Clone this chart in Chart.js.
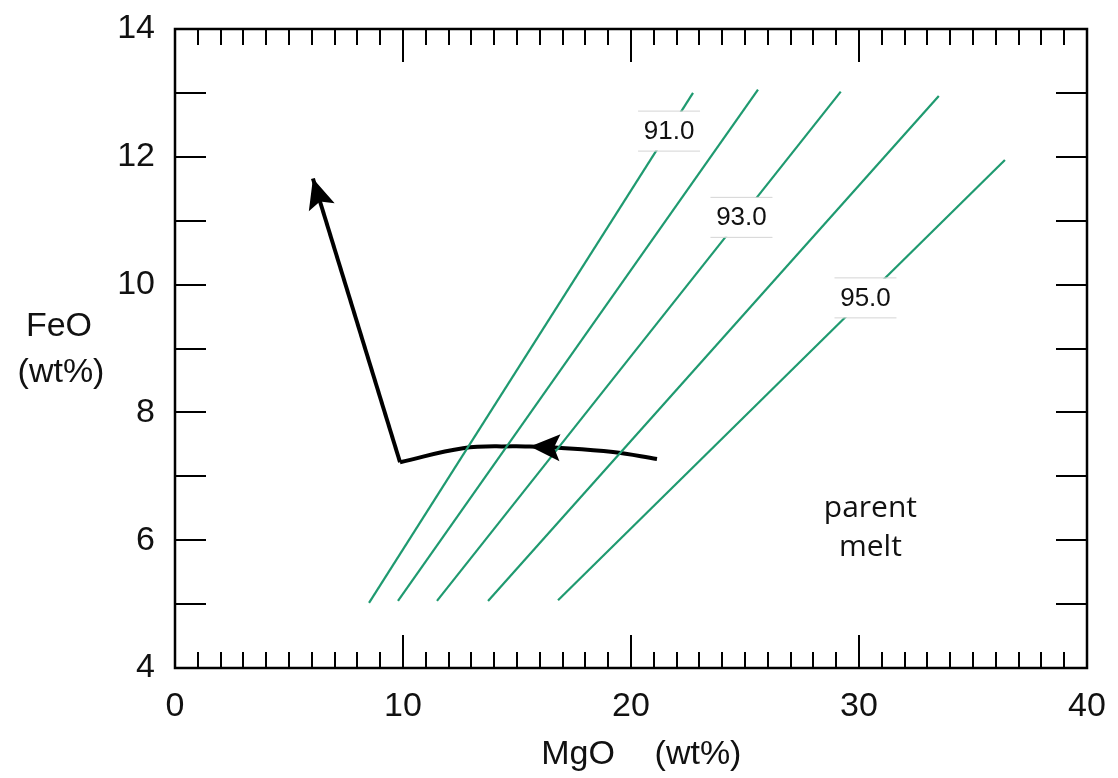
<!DOCTYPE html>
<html>
<head>
<meta charset="utf-8">
<script src="https://cdn.jsdelivr.net/npm/chart.js@4.4.1/dist/chart.umd.min.js"></script>
<style>
  html, body { margin: 0; padding: 0; background: #fff; }
  canvas { display: block; }
</style>
</head>
<body>
<canvas id="olivine-chart" width="1118" height="778"></canvas>
<script>
// axis tick labels
const mgoTicks = [0, 10, 20, 30, 40];
const feoTicks = [4, 6, 8, 10, 12, 14];

// olivine Fo contours: [bottom, top] end points
const contourMgO = [[8.51, 22.72], [9.78, 25.57], [11.49, 29.2], [13.73, 33.5], [16.8, 36.4]];
const contourFeO = [[5.02, 13.0], [5.05, 13.05], [5.05, 13.02], [5.05, 12.95], [5.06, 11.95]];
const contourLabels = ['91.0', '', '93.0', '', '95.0'];
const contourLabelFeO = [12.41, null, 11.06, null, 9.80];

// melt path from parent melt, then fractionation trend
const meltPathMgO = [21.14, 19.21, 16.67, 15.57, 14.82, 12.63, 9.87];
const meltPathFeO = [7.27, 7.38, 7.45, 7.465, 7.47, 7.44, 7.22];
const meltArrowIndex = 3;
const fractionMgO = [9.87, 6.05];
const fractionFeO = [7.22, 11.66];

const parentMeltText = ['parent', 'melt'];
const parentMeltMgO = 30.5;
const parentMeltFeO = [6.5, 5.89];

const GREEN = '#1f9a70';
const SANS = '"Liberation Sans", Arial, Helvetica, sans-serif';

function pts(xs, ys) {
  return xs.map((x, i) => ({ x: x, y: ys[i] }));
}

const datasets = [];
contourMgO.forEach((xs, i) => {
  datasets.push({
    data: pts(xs, contourFeO[i]),
    borderColor: GREEN,
    borderWidth: 2.2,
    pointRadius: 0,
    showLine: true
  });
});
datasets.push({
  data: pts(meltPathMgO, meltPathFeO),
  borderColor: '#000',
  borderWidth: 4,
  pointRadius: 0,
  showLine: true,
  tension: 0.4,
  arrowAt: meltArrowIndex
});
datasets.push({
  data: pts(fractionMgO, fractionFeO),
  borderColor: '#000',
  borderWidth: 4,
  pointRadius: 0,
  showLine: true,
  arrowAt: fractionMgO.length - 1
});

function arrowHead(ctx, tip, from, len, half) {
  const a = Math.atan2(tip.y - from.y, tip.x - from.x);
  const c = Math.cos(a), s = Math.sin(a);
  ctx.beginPath();
  ctx.moveTo(tip.x, tip.y);
  ctx.lineTo(tip.x - len * c + half * s, tip.y - len * s - half * c);
  ctx.lineTo(tip.x - len * 0.8 * c, tip.y - len * 0.8 * s);
  ctx.lineTo(tip.x - len * c - half * s, tip.y - len * s + half * c);
  ctx.closePath();
  ctx.fill();
}

const decorations = {
  id: 'decorations',
  afterDatasetsDraw(chart) {
    const ctx = chart.ctx;
    const xs = chart.scales.x, ys = chart.scales.y;
    ctx.save();

    // arrow heads
    ctx.fillStyle = '#000';
    chart.data.datasets.forEach((ds, di) => {
      if (ds.arrowAt === undefined) return;
      const meta = chart.getDatasetMeta(di);
      const tip = meta.data[ds.arrowAt];
      const prev = meta.data[ds.arrowAt - 1];
      arrowHead(ctx, tip, prev, 30, 13.5);
    });

    // contour labels on white boxes
    ctx.font = '26px ' + SANS;
    ctx.textAlign = 'center';
    ctx.textBaseline = 'middle';
    contourLabels.forEach((txt, i) => {
      if (!txt) return;
      const f = contourLabelFeO[i];
      const [x0, x1] = contourMgO[i], [y0, y1] = contourFeO[i];
      const m = x0 + (f - y0) / (y1 - y0) * (x1 - x0);
      const px = xs.getPixelForValue(m), py = ys.getPixelForValue(f);
      ctx.fillStyle = '#fff';
      ctx.fillRect(px - 31, py - 19, 62, 39);
      ctx.strokeStyle = '#d4d4d4';
      ctx.lineWidth = 1;
      ctx.beginPath();
      ctx.moveTo(px - 31, py - 19.5); ctx.lineTo(px + 31, py - 19.5);
      ctx.moveTo(px - 31, py + 20.5); ctx.lineTo(px + 31, py + 20.5);
      ctx.stroke();
      ctx.fillStyle = '#111';
      ctx.fillText(txt, px, py + 1);
    });

    // parent melt note
    ctx.font = '30px "Open Sans", sans-serif';
    ctx.fillStyle = '#111';
    parentMeltText.forEach((t, i) => {
      ctx.fillText(t, xs.getPixelForValue(parentMeltMgO), ys.getPixelForValue(parentMeltFeO[i]));
    });
    ctx.restore();
  },
  afterDraw(chart) {
    const ctx = chart.ctx;
    const a = chart.chartArea;
    const xs = chart.scales.x, ys = chart.scales.y;
    ctx.save();
    ctx.strokeStyle = '#000';

    // inward ticks on all four sides
    ctx.lineWidth = 2;
    ctx.beginPath();
    for (let v = xs.min + 1; v < xs.max; v++) {
      const px = Math.round(xs.getPixelForValue(v));
      const len = v % 10 === 0 ? 33 : 16;
      ctx.moveTo(px, a.bottom); ctx.lineTo(px, a.bottom - len);
      ctx.moveTo(px, a.top); ctx.lineTo(px, a.top + len);
    }
    for (let v = ys.min + 1; v < ys.max; v++) {
      const py = Math.round(ys.getPixelForValue(v));
      ctx.moveTo(a.left, py); ctx.lineTo(a.left + 31, py);
      ctx.moveTo(a.right, py); ctx.lineTo(a.right - 31, py);
    }
    ctx.stroke();

    ctx.lineWidth = 2.5;
    ctx.strokeRect(a.left, a.top, a.right - a.left, a.bottom - a.top);

    // axis titles
    ctx.fillStyle = '#111';
    ctx.font = '34px ' + SANS;
    ctx.textAlign = 'center';
    ctx.textBaseline = 'middle';
    ctx.fillText('FeO', a.left - 116, 327);
    ctx.fillText('(wt%)', a.left - 114, 373);
    ctx.fillText('MgO', 578, 755);
    ctx.fillText('(wt%)', 698, 755);
    ctx.restore();
  }
};

const config = {
  type: 'scatter',
  data: { datasets: datasets },
  options: {
    responsive: false,
    devicePixelRatio: 1,
    animation: false,
    layout: { padding: { top: 29, right: 31, left: 0, bottom: 0 } },
    plugins: {
      legend: { display: false },
      tooltip: { enabled: false }
    },
    scales: {
      x: {
        type: 'linear',
        min: 0,
        max: 40,
        grid: { display: false, drawTicks: false },
        border: { display: false },
        afterBuildTicks: s => { s.ticks = mgoTicks.map(v => ({ value: v })); },
        afterFit: s => { s.height = 110; s.paddingLeft = 0; s.paddingRight = 0; },
        ticks: {
          padding: 18,
          color: '#111',
          maxRotation: 0,
          font: { family: SANS, size: 34 }
        }
      },
      y: {
        type: 'linear',
        min: 4,
        max: 14,
        grid: { display: false, drawTicks: false },
        border: { display: false },
        afterBuildTicks: s => { s.ticks = feoTicks.map(v => ({ value: v })); },
        afterFit: s => { s.width = 175; s.paddingTop = 0; s.paddingBottom = 0; },
        ticks: {
          padding: 20,
          color: '#111',
          font: { family: SANS, size: 34 }
        }
      }
    }
  },
  plugins: [decorations]
};

new Chart(document.getElementById('olivine-chart').getContext('2d'), config);
</script>
</body>
</html>
